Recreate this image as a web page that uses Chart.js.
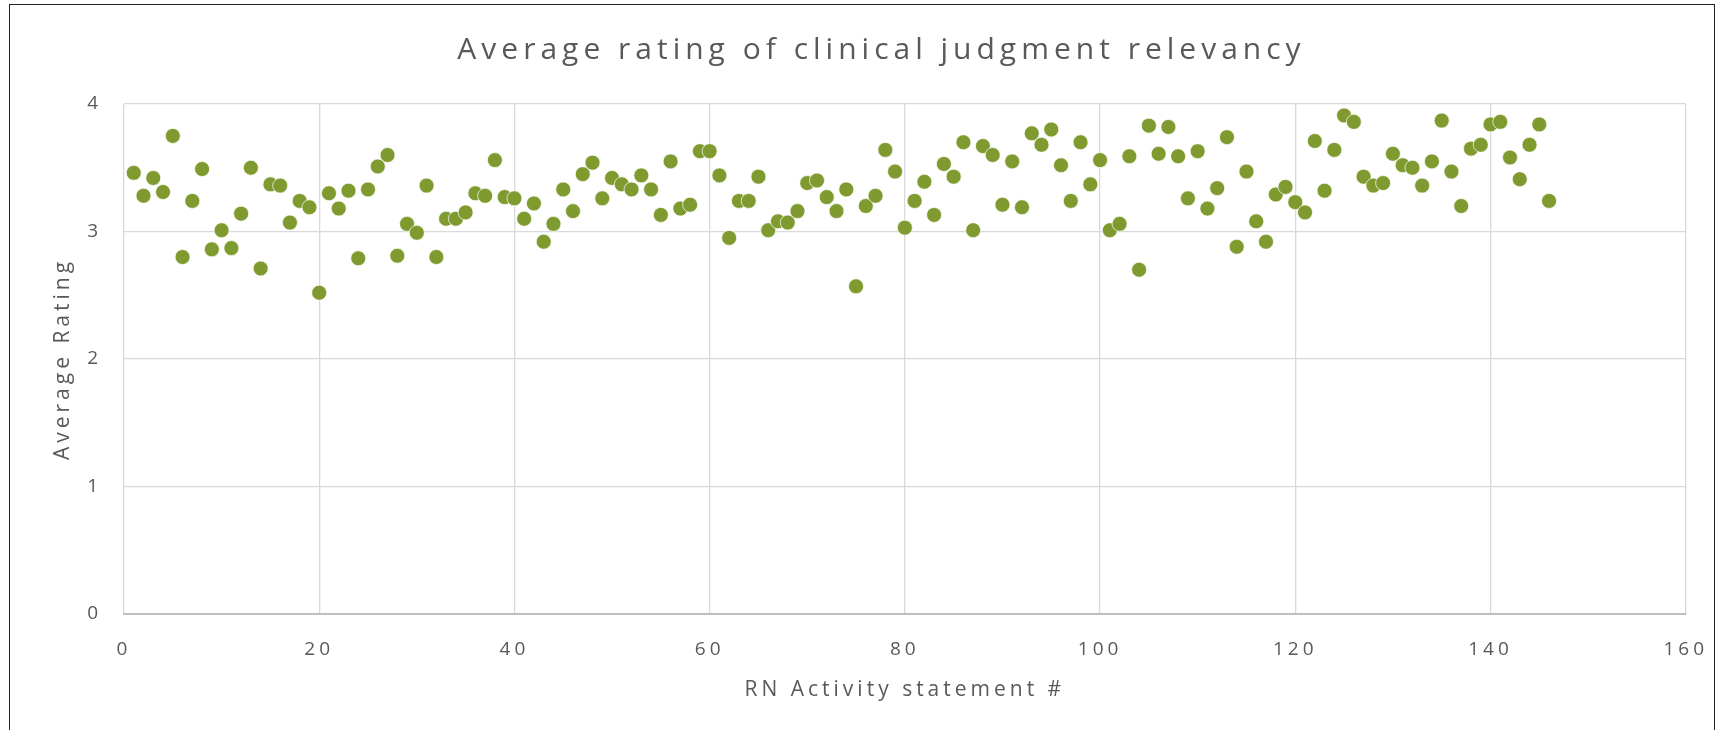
<!DOCTYPE html>
<html lang="en">

<head>
	<meta charset="UTF-8">
	<meta name="viewport" content="width=device-width, initial-scale=1.0">
	<script src="https://cdn.jsdelivr.net/npm/chart.js@4.4.1/dist/chart.umd.min.js"></script>
	<title>Average rating of clinical judgment relevancy</title>
	<style>
		body { margin: 0; background: #fff; overflow: hidden; }
		#frame { position: absolute; left: 9px; top: 4px; width: 1704px; height: 800px; border: 1.5px solid #222; pointer-events: none; }
		#myChart { position: absolute; left: 0; top: 0; }
	</style>
</head>

<body>
	<canvas id="myChart" width="1726" height="730"></canvas>
	<div id="frame"></div>
	<script>
		let chartTitle = "Average rating of clinical judgment relevancy";
		let xTitle = "RN Activity statement #";
		let yTitle = "Average Rating";

		let statementNums = [
			1, 2, 3, 4, 5, 6, 7, 8, 9, 10, 11, 12, 13, 14, 15, 16, 17, 18, 19, 20,
			21, 22, 23, 24, 25, 26, 27, 28, 29, 30, 31, 32, 33, 34, 35, 36, 37, 38, 39, 40,
			41, 42, 43, 44, 45, 46, 47, 48, 49, 50, 51, 52, 53, 54, 55, 56, 57, 58, 59, 60,
			61, 62, 63, 64, 65, 66, 67, 68, 69, 70, 71, 72, 73, 74, 75, 76, 77, 78, 79, 80,
			81, 82, 83, 84, 85, 86, 87, 88, 89, 90, 91, 92, 93, 94, 95, 96, 97, 98, 99, 100,
			101, 102, 103, 104, 105, 106, 107, 108, 109, 110, 111, 112, 113, 114, 115, 116, 117, 118, 119, 120,
			121, 122, 123, 124, 125, 126, 127, 128, 129, 130, 131, 132, 133, 134, 135, 136, 137, 138, 139, 140,
			141, 142, 143, 144, 145, 146
		];
		let avgRatings = [
			3.46, 3.28, 3.42, 3.31, 3.75, 2.80, 3.24, 3.49, 2.86, 3.01, 2.87, 3.14, 3.50, 2.71, 3.37, 3.36, 3.07, 3.24, 3.19, 2.52,
			3.30, 3.18, 3.32, 2.79, 3.33, 3.51, 3.60, 2.81, 3.06, 2.99, 3.36, 2.80, 3.10, 3.10, 3.15, 3.30, 3.28, 3.56, 3.27, 3.26,
			3.10, 3.22, 2.92, 3.06, 3.33, 3.16, 3.45, 3.54, 3.26, 3.42, 3.37, 3.33, 3.44, 3.33, 3.13, 3.55, 3.18, 3.21, 3.63, 3.63,
			3.44, 2.95, 3.24, 3.24, 3.43, 3.01, 3.08, 3.07, 3.16, 3.38, 3.40, 3.27, 3.16, 3.33, 2.57, 3.20, 3.28, 3.64, 3.47, 3.03,
			3.24, 3.39, 3.13, 3.53, 3.43, 3.70, 3.01, 3.67, 3.60, 3.21, 3.55, 3.19, 3.77, 3.68, 3.80, 3.52, 3.24, 3.70, 3.37, 3.56,
			3.01, 3.06, 3.59, 2.70, 3.83, 3.61, 3.82, 3.59, 3.26, 3.63, 3.18, 3.34, 3.74, 2.88, 3.47, 3.08, 2.92, 3.29, 3.35, 3.23,
			3.15, 3.71, 3.32, 3.64, 3.91, 3.86, 3.43, 3.36, 3.38, 3.61, 3.52, 3.50, 3.36, 3.55, 3.87, 3.47, 3.20, 3.65, 3.68, 3.84,
			3.86, 3.58, 3.41, 3.68, 3.84, 3.24
		];

		let textColor = "#595959";
		let gridColor = "#d9d9d9";
		let fontFamily = "'Open Sans', 'Noto Sans', sans-serif";

		// the original font is a lot wider, so space the letters out a bit
		// (title gets a little more, and sits a bit right of the canvas centre)
		let letterSpacing = {
			id: "letterSpacing",
			beforeDraw: (chart) => {
				let block = chart.titleBlock;
				if (block && !block.spaced) {
					let draw = block.draw.bind(block);
					block.draw = (area) => {
						let ctx = chart.ctx;
						ctx.save();
						ctx.letterSpacing = "5px";
						ctx.translate(30, 0);
						draw(area);
						ctx.restore();
					};
					block.spaced = true;
				}
				chart.ctx.letterSpacing = "4px";
			},
			afterDraw: (chart) => { chart.ctx.letterSpacing = "0px"; }
		};

		new Chart("myChart", {
			type: "scatter",
			data: {
				datasets: [{
					data: statementNums.map((n, i) => ({ x: n, y: avgRatings[i] })),
					backgroundColor: "#7f9b2f",
					borderColor: "rgba(255,255,255,0.7)",
					borderWidth: 1,
					pointRadius: 7.5,
					pointHoverRadius: 7.5
				}]
			},
			plugins: [letterSpacing],
			options: {
				responsive: false,
				animation: false,
				layout: {
					padding: { left: 10, right: 33, top: 0, bottom: 0 }
				},
				plugins: {
					legend: { display: false },
					tooltip: { enabled: false },
					title: {
						display: true,
						text: chartTitle,
						color: textColor,
						font: { family: fontFamily, size: 30, weight: "normal" },
						padding: { top: 32, bottom: 36 }
					}
				},
				scales: {
					x: {
						type: "linear",
						min: 0,
						max: 160,
						afterFit: (scale) => { scale.height = 116; },
						ticks: {
							stepSize: 20,
							color: textColor,
							padding: 24,
							font: { family: fontFamily, size: 19 }
						},
						grid: {
							color: gridColor,
							lineWidth: 1.3,
							drawTicks: false
						},
						border: { color: "#bfbfbf", width: 2 },
						title: {
							display: true,
							text: xTitle,
							color: textColor,
							font: { family: fontFamily, size: 21 },
							padding: { top: 0, bottom: 27 }
						}
					},
					y: {
						min: 0,
						max: 4,
						afterFit: (scale) => { scale.width = 114; },
						ticks: {
							stepSize: 1,
							color: textColor,
							padding: 22,
							font: { family: fontFamily, size: 19 }
						},
						grid: {
							color: (ctx) => ctx.tick && ctx.tick.value === 0 ? "#bfbfbf" : gridColor,
							lineWidth: 1.3,
							drawTicks: false
						},
						border: { display: false },
						title: {
							display: true,
							text: yTitle,
							color: textColor,
							font: { family: fontFamily, size: 21 },
							padding: { top: 40, bottom: 0 }
						}
					}
				}
			}
		});
	</script>
</body>

</html>
